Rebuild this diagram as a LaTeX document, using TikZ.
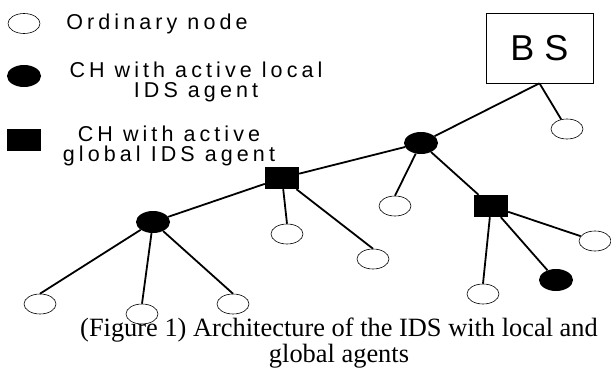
\documentclass[tikz,border=0pt]{standalone}
\usepackage{fontspec}
\usepackage{tikz}
\usetikzlibrary{shapes.geometric}
\setmainfont{Liberation Serif}
\newfontfamily\keyfont[LetterSpace=19]{Liberation Sans}
\newfontfamily\bsfont{Liberation Sans}

\begin{document}
\begin{tikzpicture}[x=1pt, y=-1pt,
        ordnode/.style = {draw, ellipse, line width = .6pt, minimum width = 32pt, minimum height = 20pt, inner sep = 0pt},
        localch/.style = {fill, ellipse, minimum width = 34pt, minimum height = 22pt, inner sep = 0pt},
        globalch/.style = {fill, rectangle, minimum width = 34pt, minimum height = 22pt, inner sep = 0pt},
        keytext/.style = {align = center, inner sep = 0pt, font = \keyfont\fontsize{21.5}{20}\selectfont},
        link/.style = {line width = 1.8pt}]
        \useasboundingbox (0, 0) rectangle (611, 369);
        % legend
        \node[ordnode] (keyord) at (24, 23.5) {};
        \node[localch] (keyloc) at (24, 76) {};
        \node[globalch] (keyglob) at (24, 140) {};
        \node[keytext] (txtord) at (157, 24) {Ordinary node};
        \node[keytext] (txtloc) at (196, 82) {CH with active local\\IDS agent};
        \node[keytext, font = \keyfont\fontsize{21.5}{19.5}\selectfont] (txtglob) at (169, 146) {CH with active\\global IDS agent};
        % base station
        \node[draw, rectangle, line width = .6pt, minimum width = 107pt, minimum height = 70pt, inner sep = 0pt,
              font = \bsfont\fontsize{36}{36}\selectfont] (bs) at (539.5, 48) {B S\hspace{8pt}};
        % cluster heads
        \node[localch] (loc1) at (421, 143) {};
        \node[globalch] (glob1) at (282, 178) {};
        \node[globalch] (glob2) at (491, 206) {};
        \node[localch] (loc2) at (153, 222) {};
        \node[localch] (loc3) at (556, 280) {};
        % ordinary nodes
        \node[ordnode] (o1) at (567, 129) {};
        \node[ordnode] (o2) at (395, 206) {};
        \node[ordnode] (o3) at (595, 241) {};
        \node[ordnode] (o4) at (483, 294) {};
        \node[ordnode] (o5) at (287, 234) {};
        \node[ordnode] (o6) at (373, 259) {};
        \node[ordnode] (o7) at (40, 304) {};
        \node[ordnode] (o8) at (142, 314) {};
        \node[ordnode] (o9) at (233, 304) {};
        % links
        \draw[link] (bs.south) -- (loc1);
        \draw[link] (bs.south) -- (o1);
        \draw[link] (loc1) -- (glob1);
        \draw[link] (loc1) -- (o2.north);
        \draw[link] (loc1) -- (glob2);
        \draw[link] (glob2) -- (o3);
        \draw[link] (glob2) -- (loc3);
        \draw[link] (glob2) -- (o4.north);
        \draw[link] (glob1) -- (o5.north);
        \draw[link] (glob1) -- (o6.north);
        \draw[link] (glob1) -- (loc2);
        \draw[link] (loc2) -- (o7.north);
        \draw[link] (loc2) -- (o8.north);
        \draw[link] (loc2) -- (o9.north);
        % caption
        \node[align = center, inner sep = 0pt, font = \fontsize{26.4}{26}\selectfont] (caption) at (339, 343)
              {(Figure 1) Architecture of the IDS with local and\\global agents};
\end{tikzpicture}
\end{document}
